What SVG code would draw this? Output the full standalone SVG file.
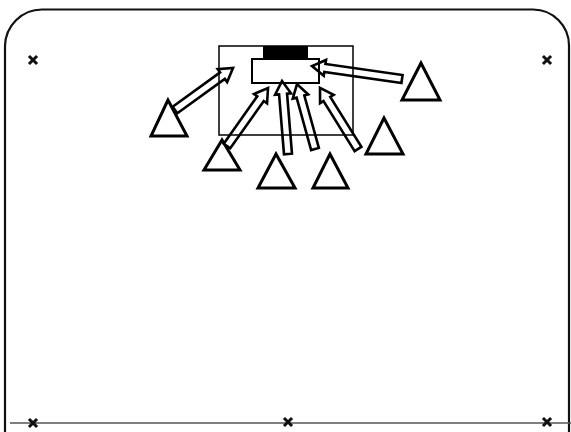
<svg xmlns="http://www.w3.org/2000/svg" width="571" height="432" viewBox="0 0 571 432">
<style>
.frame{fill:none;stroke:#111;stroke-width:2.2}
.base{stroke:#555;stroke-width:1.5}
.xm{stroke:#111;stroke-width:3;stroke-linecap:square}
.tri{fill:#fff;stroke:#000;stroke-width:3;stroke-linejoin:miter}
.arr{fill:#fff;stroke:#000;stroke-width:2.6;stroke-linejoin:miter}
.box{fill:none;stroke:#000;stroke-width:1.5}
.inner{fill:none;stroke:#000;stroke-width:2}
</style>
<defs>
<g id="xmark"><line class="xm" x1="-3" y1="-3" x2="3" y2="3"/><line class="xm" x1="-3" y1="3" x2="3" y2="-3"/></g>
</defs>
<g id="frame">
<path class="frame" d="M5,432 V46 A37,37 0 0 1 42,9.5 H533 A36,36 0 0 1 569,46 V432"/>
<line class="base" x1="10" y1="423" x2="571" y2="423"/>
</g>
<g id="marks">
<use href="#xmark" x="33" y="60"/>
<use href="#xmark" x="547" y="60"/>
<use href="#xmark" x="33" y="423"/>
<use href="#xmark" x="288" y="422"/>
<use href="#xmark" x="547" y="422"/>
</g>
<g id="players">
<polygon id="t1" class="tri" points="168,100 151,136 187,136"/>
<polygon id="t2" class="tri" points="222,140 204,170 240,170"/>
<polygon id="t3" class="tri" points="276,154 258,188 295,188"/>
<polygon id="t4" class="tri" points="330,154 313,188 348,188"/>
<polygon id="t5" class="tri" points="384,118 366,154 403,154"/>
<polygon id="t6" class="tri" points="421,63 402,100 440,100"/>
</g>
<g id="connectors">
<path class="arr" transform="translate(175,110) rotate(-35.9)" d="M0,-4 H58.6 V-8 L71.6,0 L58.6,8 V4 H0 Z"/>
<path class="arr" transform="translate(227,146) rotate(-54.7)" d="M0,-4 H58 V-8 L71,0 L58,8 V4 H0 Z"/>
<path class="arr" transform="translate(288,154) rotate(-94.7)" d="M0,-4 H60.2 V-8 L73.2,0 L60.2,8 V4 H0 Z"/>
<path class="arr" transform="translate(315,149) rotate(-105.5)" d="M0,-4 H54.4 V-8 L67.4,0 L54.4,8 V4 H0 Z"/>
<path class="arr" transform="translate(358,149) rotate(-121.9)" d="M0,-4 H58.9 V-8 L71.9,0 L58.9,8 V4 H0 Z"/>
<path class="arr" transform="translate(402,79) rotate(-171.8)" d="M0,-4 H77.9 V-8 L90.9,0 L77.9,8 V4 H0 Z"/>
</g>
<g id="goal">
<rect class="box" x="219" y="46" width="134" height="89"/>
<rect x="263" y="46" width="45" height="13" fill="#000"/>
<rect class="inner" x="252" y="59" width="67" height="24"/>
</g>
</svg>
